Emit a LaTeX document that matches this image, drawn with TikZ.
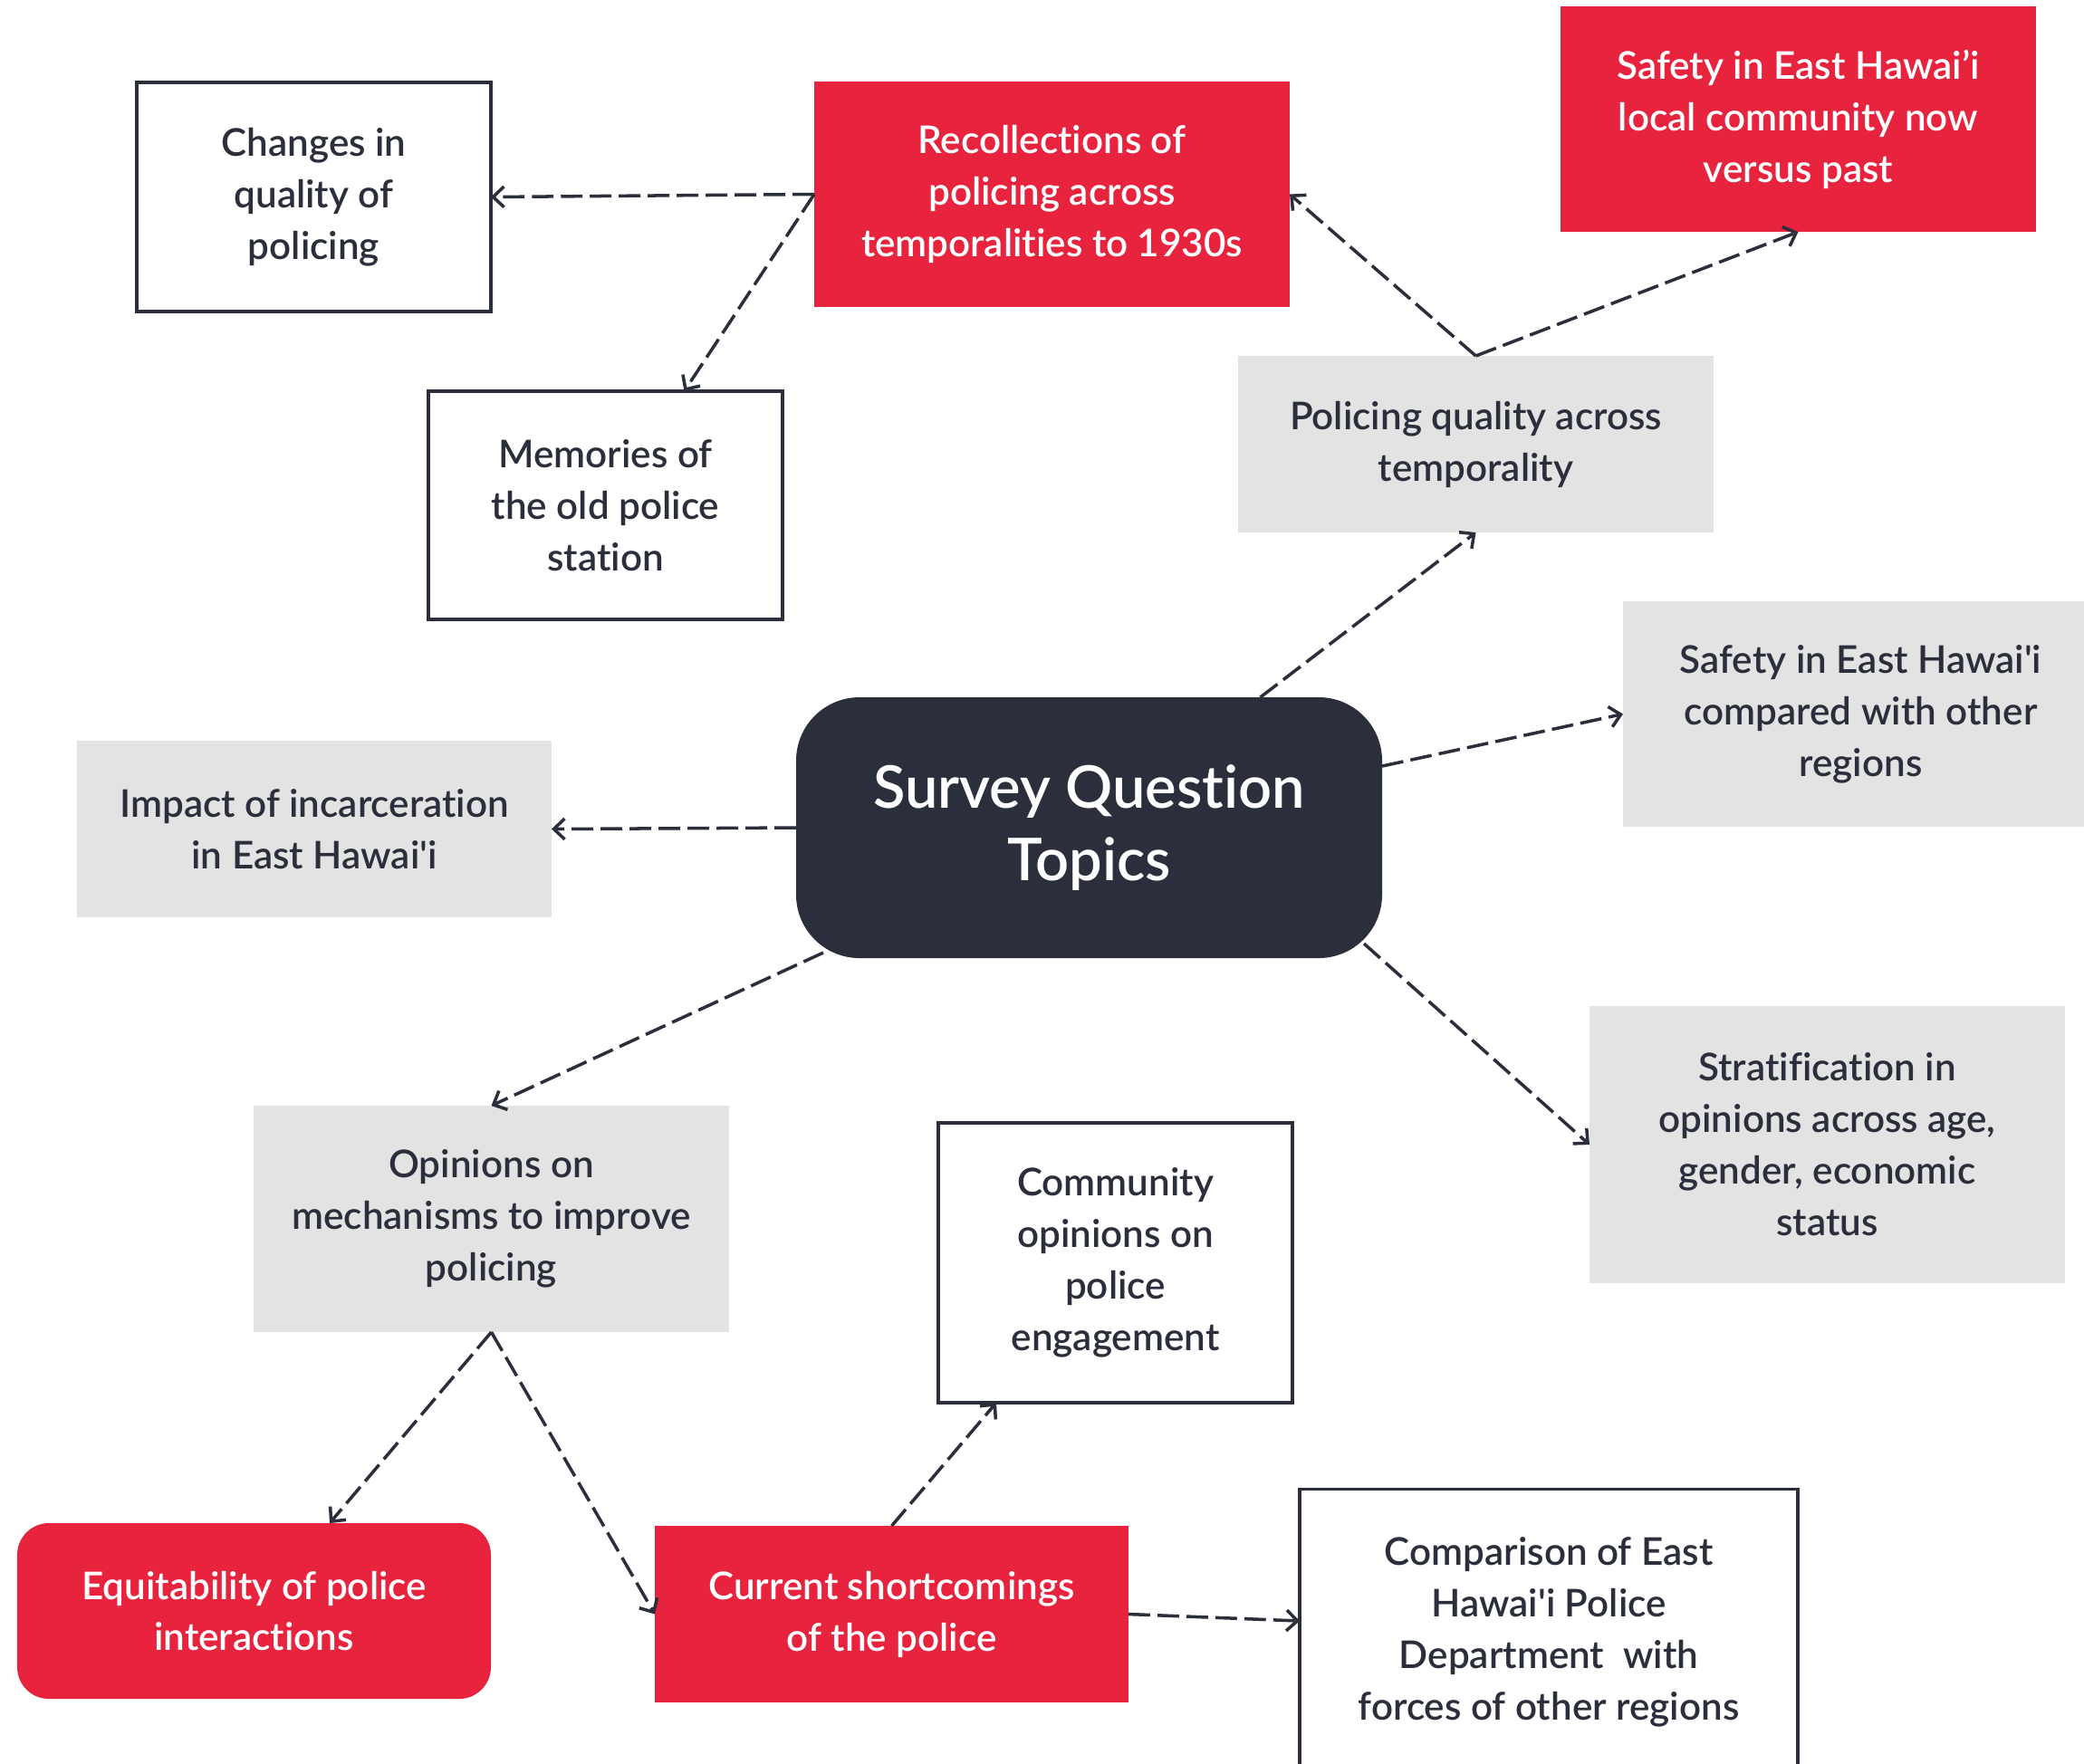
\documentclass[tikz,border=0pt]{standalone}
\usepackage{fontspec}
\setmainfont{Lato}[UprightFont={* Semibold}, Ligatures=NoCommon]
\usepackage{xcolor}
\usepackage{tikz}
\usetikzlibrary{arrows.meta, positioning}
\definecolor{surveyred}{RGB}{232, 35, 61}
\definecolor{surveynavy}{RGB}{43, 46, 59}
\definecolor{surveygrey}{RGB}{227, 227, 227}

\begin{document}
\begin{tikzpicture}[
    box/.style={rectangle, outer sep=0pt, inner sep=0pt, align=center, text=surveynavy,
                font=\fontsize{12}{16.2}\selectfont},
    redbox/.style={box, fill=surveyred, text=white},
    greybox/.style={box, fill=surveygrey},
    plainbox/.style={box, fill=white, draw=surveynavy, line width=1pt},
    hub/.style={box, rounded corners=0.7cm, fill=surveynavy, text=white,
                font=\fontsize{18.5}{23}\selectfont},
    dashlink/.style={surveynavy, line width=1pt, dash pattern=on 6.8pt off 2.3pt,
                     -{Straight Barb[length=3.4pt, width=6.5pt]}}
]

% page
\clip (0,0) rectangle (23.01,-19.47);
\fill[white] (0,0) rectangle (23.01,-19.47);

% Hub
\node[hub, minimum width=6.47cm, minimum height=2.88cm] (main) at (12.025,-9.14) {Survey Question\\Topics};

% Recollections branch
\node[redbox, minimum width=5.25cm, minimum height=2.49cm] (rec) at (11.615,-2.145)
    {Recollections of\\policing across\\temporalities to 1930s};
\node[plainbox, minimum width=3.91cm, minimum height=2.53cm] (chg) at (3.465,-2.175)
    {Changes in\\quality of\\policing};
\node[plainbox, minimum width=3.91cm, minimum height=2.52cm] (mem) at (6.685,-5.58)
    {Memories of\\the old police\\station};

% Temporality branch
\node[greybox, minimum width=5.25cm, minimum height=1.95cm] (pq) at (16.295,-4.905)
    {Policing quality across\\temporality};
\node[redbox, minimum width=5.25cm, minimum height=2.49cm] (safe) at (19.855,-1.315)
    {Safety in East Hawai’i\\local community now\\versus past};

% Right side
\node[greybox, minimum width=5.25cm, minimum height=2.49cm] (cmp) at (20.545,-7.885)
    {Safety in East Hawai\textquotesingle i\\compared with other\\regions};
\node[greybox, minimum width=5.25cm, minimum height=3.06cm] (strat) at (20.175,-12.64)
    {Stratification in\\opinions across age,\\gender, economic\\status};

% Left side
\node[greybox, minimum width=5.24cm, minimum height=1.95cm] (imp) at (3.47,-9.155)
    {Impact of incarceration\\in East Hawai\textquotesingle i};

% Improvement branch
\node[greybox, minimum width=5.25cm, minimum height=2.5cm] (opi) at (5.425,-13.46)
    {Opinions on\\mechanisms to improve\\policing};
\node[redbox, rounded corners=0.35cm, minimum width=5.23cm, minimum height=1.94cm] (equ) at (2.805,-17.79)
    {Equitability of police\\interactions};
\node[redbox, minimum width=5.23cm, minimum height=1.95cm] (cur) at (9.845,-17.825)
    {Current shortcomings\\of the police};
\node[plainbox, minimum width=3.91cm, minimum height=3.09cm] (com) at (12.315,-13.945)
    {Community\\opinions on\\police\\engagement};
\node[plainbox, minimum width=5.5cm, minimum height=3.15cm] (comp) at (17.1,-18.02)
    {Comparison of East\\Hawai\textquotesingle i Police\\Department\ \ with\\forces of other regions};

% Arrows from the hub
\draw[dashlink] ([xshift=1.89cm]main.north) -- (pq.south);
\draw[dashlink] ([yshift=0.68cm]main.east) -- (cmp.west);
\draw[dashlink] (main.west) -- (imp.east);
\draw[dashlink] ([shift={(0.3,0.06)}]main.south west) -- (opi.north);
\draw[dashlink] ([shift={(-0.2,0.16)}]main.south east) -- (strat.west);

% Arrows between topics
\draw[dashlink] (rec.west) -- (chg.east);
\draw[dashlink] (rec.west) -- ([xshift=0.87cm]mem.north);
\draw[dashlink] (pq.north) -- (rec.east);
\draw[dashlink] (pq.north) -- (safe.south);
\draw[dashlink] (opi.south) -- ([xshift=0.835cm]equ.north);
\draw[dashlink] (opi.south) -- (cur.west);
\draw[dashlink] (cur.north) -- ([xshift=-1.315cm]com.south);
\draw[dashlink] (cur.east) -- ([yshift=0.12cm]comp.west);

\end{tikzpicture}
\end{document}
